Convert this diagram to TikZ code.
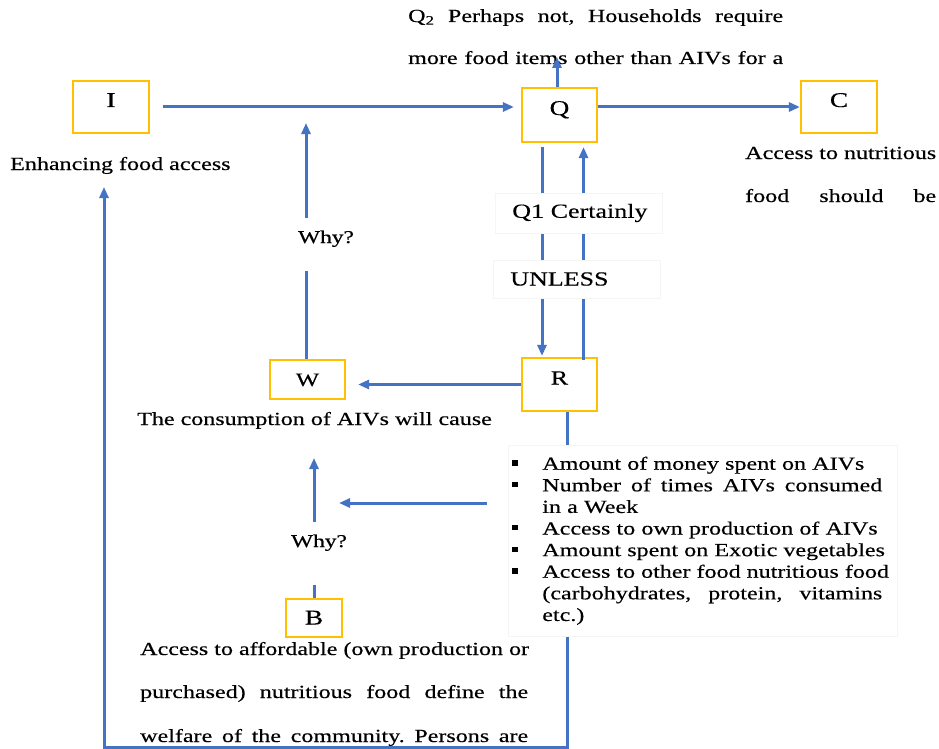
\documentclass[tikz,border=0pt]{standalone}
\usepackage{fontspec}
\setmainfont{Liberation Serif}[FakeStretch=1.3,FakeBold=0.35]
\usetikzlibrary{arrows.meta}
\definecolor{lineblue}{HTML}{4472C4}
\definecolor{boxgold}{HTML}{FFC000}
\newcommand{\sqbul}{\rule[0.22em]{5.5pt}{5.5pt}}
\newcommand{\jline}[2]{\makebox[#1][s]{\spaceskip=\fontdimen2\font plus 1fil\relax #2}}
\frenchspacing
\begin{document}
\begin{tikzpicture}[x=1pt,y=-1pt,
  lbox/.style={draw=boxgold, line width=2.2pt, inner sep=0pt, text height=14pt, text depth=14pt, font=\fontsize{21}{25}\selectfont},
  sbox/.style={draw=boxgold, line width=2.2pt, inner sep=0pt, text height=13pt, text depth=0pt, font=\fontsize{19}{23}\selectfont},
  conn/.style={draw=lineblue, line width=3pt, -{Triangle[length=11pt,width=9pt]}},
  txt/.style={font=\fontsize{18.5}{21.6}\selectfont, inner sep=0pt},
  cover/.style={fill=white, draw=black!4, line width=0.6pt},
  coverclean/.style={fill=white, inner sep=0pt}
]
\useasboundingbox (0,0) rectangle (939,749);
\fill[white] (0,0) rectangle (939,749);

% boxes
\node[lbox, minimum width=76pt, minimum height=52pt] (I) at (111,107) {I};
\node[lbox, minimum width=75pt, minimum height=54pt] (Q) at (559.5,115) {Q};
\node[lbox, minimum width=76pt, minimum height=52pt] (C) at (839,107) {C};
\node[sbox, minimum width=75pt, minimum height=39pt] (W) at (307.5,379.5) {W};
\node[lbox, minimum width=75pt, minimum height=53pt, font=\fontsize{20}{24}\selectfont] (R) at (559.5,384.5) {R};
\node[sbox, minimum width=56pt, minimum height=38pt, font=\fontsize{21}{25}\selectfont] (B) at (314,618) {B};

% plain texts
\node[txt, anchor=base west] (q2a) at (408,22) {\jline{375pt}{Q\textsubscript{2} Perhaps not, Households require}};
\node[txt, anchor=base west] (q2b) at (408,64) {\jline{375pt}{more food items other than AIVs for a}};
\node[txt, anchor=base west] (enh) at (10,170) {Enhancing food access};
\node[txt, anchor=base west] (acc1) at (745,159) {Access to nutritious};
\node[txt, anchor=base west] (acc2) at (745,202) {\jline{191pt}{food should be}};
\node[txt, anchor=base west] (cons) at (137,425) {The consumption of AIVs will cause};
\node[txt, anchor=base west] (aff1) at (140,655) {\jline{388pt}{Access to affordable (own production or}};
\node[txt, anchor=base west] (aff2) at (140,698) {\jline{388pt}{purchased) nutritious food define the}};
\node[txt, anchor=base west] (aff3) at (140,742) {\jline{388pt}{welfare of the community. Persons are}};

% free ends
\coordinate (qtop) at (557,57);
\coordinate (corner1) at (567,747);
\coordinate (corner2) at (104,747);
\coordinate (enhtip) at (104,187);
\coordinate (blstart) at (487,503);
\coordinate (whytip) at (339,503);
\coordinate (lowtip) at (314,458);

% connectors
\draw[conn, shorten <=13pt, shorten >=7pt] (I.east) -- (I.east -| Q.west);
\draw[conn] (C.west -| Q.east) -- (C.west);
\draw[conn] ([xshift=-2.5pt]Q.north) -- (qtop);
\draw[conn, shorten <=4pt, shorten >=1pt] ([xshift=-17.5pt]Q.south) -- ([xshift=-17.5pt]R.north);
\draw[conn, shorten <=-3pt, shorten >=4pt] ([xshift=24pt]R.north) -- ([xshift=24pt]Q.south);
\draw[conn, shorten >=12pt] (R.west) -- (R.west -| W.east);
\draw[conn, shorten >=16pt] ([xshift=-1.5pt]W.north) -- ([xshift=-1.5pt]W.north |- I.east);
\draw[conn] ([xshift=7.5pt]R.south) -- (corner1) -- (corner2) -- (enhtip);
\draw[conn] (blstart) -- (whytip);
\draw[conn] (B.north) -- (lowtip);

% covering text boxes
\node[cover, anchor=west, inner xsep=0pt, inner ysep=0pt, text width=167pt, align=left, minimum height=40pt, font=\fontsize{20}{24}\selectfont] (q1) at (495,213) {\hspace*{17pt}\mbox{Q1 Certainly}};
\node[cover, anchor=west, inner xsep=0pt, inner ysep=0pt, text width=167pt, align=left, minimum height=38pt, font=\fontsize{20}{24}\selectfont] (unless) at (493,279) {\hspace*{17pt}\mbox{UNLESS}};
\node[coverclean, minimum width=90pt, minimum height=53pt, text height=12pt, text depth=15pt, font=\fontsize{18}{22}\selectfont] (why1) at (326,244.5) {Why?};
\node[coverclean, minimum width=80pt, minimum height=63pt, text height=12pt, text depth=25pt, font=\fontsize{18}{22}\selectfont] (why2) at (319,553.5) {Why?};
\node[fill=white, draw=black!4, line width=0.6pt, anchor=north west, inner xsep=4pt, inner ysep=11.4pt, text width=381pt, align=left, font=\fontsize{18.5}{21.6}\selectfont] (bl) at (508,445) {%
\makebox[30pt][l]{\sqbul}Amount of money spent on AIVs\\
\makebox[30pt][l]{\sqbul}\jline{340pt}{Number of times AIVs consumed}\\
\makebox[30pt][l]{}in a Week\\
\makebox[30pt][l]{\sqbul}Access to own production of AIVs\\
\makebox[30pt][l]{\sqbul}Amount spent on Exotic vegetables\\
\makebox[30pt][l]{\sqbul}\jline{340pt}{Access to other food nutritious food}\\
\makebox[30pt][l]{}\jline{340pt}{(carbohydrates, protein, vitamins}\\
\makebox[30pt][l]{}etc.)};
\end{tikzpicture}
\end{document}
